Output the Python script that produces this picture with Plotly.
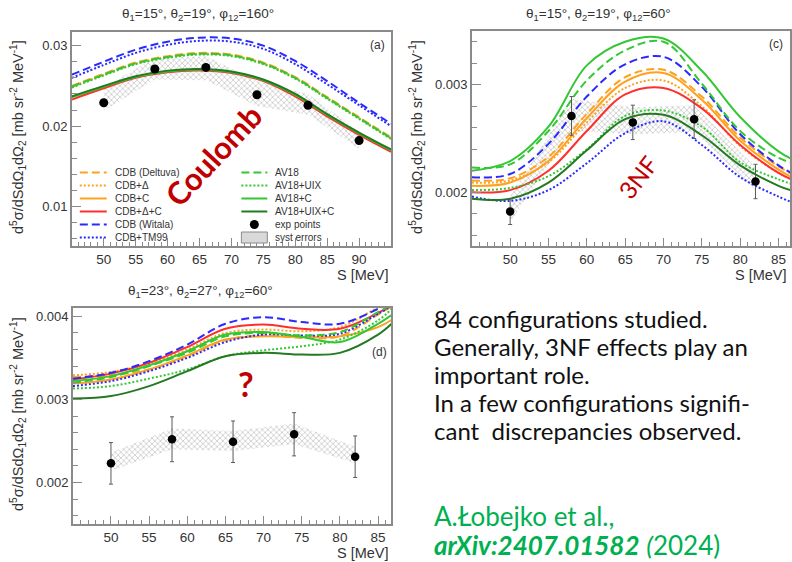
import plotly.graph_objects as go

# ---------------- data ----------------
SERIES_NAMES = ["CDB (Deltuva)", "CDB+Δ", "CDB+C", "CDB+Δ+C", "CDB (Witala)", "CDB+TM99",
                "AV18", "AV18+UIX", "AV18+C", "AV18+UIX+C"]

# panel (a): theta1=15, theta2=19, phi12=160
S_A = [45, 50, 55, 60, 65, 70, 75, 80, 85, 90, 95]
A_CDB_DELTUVA = [0.0250, 0.0265, 0.0279, 0.0287, 0.0291, 0.0289, 0.0279, 0.0261, 0.0236, 0.0211, 0.0186]
A_CDB_DELTA   = [0.0249, 0.0264, 0.0278, 0.0286, 0.0290, 0.0288, 0.0278, 0.0260, 0.0235, 0.0210, 0.0185]
A_CDB_C       = [0.0236, 0.0249, 0.0261, 0.0268, 0.0270, 0.0267, 0.0257, 0.0239, 0.0214, 0.0191, 0.0170]
A_CDB_DELTA_C = [0.0233, 0.0247, 0.0260, 0.0267, 0.0269, 0.0266, 0.0256, 0.0237, 0.0212, 0.0189, 0.0168]
A_CDB_WITALA  = [0.0264, 0.0280, 0.0295, 0.0305, 0.0310, 0.0309, 0.0300, 0.0281, 0.0256, 0.0229, 0.0203]
A_CDB_TM99    = [0.0260, 0.0276, 0.0291, 0.0301, 0.0306, 0.0305, 0.0296, 0.0277, 0.0252, 0.0226, 0.0200]
A_AV18        = [0.0249, 0.0264, 0.0278, 0.0286, 0.0290, 0.0288, 0.0278, 0.0260, 0.0235, 0.0210, 0.0185]
A_AV18_UIX    = [0.0248, 0.0263, 0.0277, 0.0285, 0.0289, 0.0287, 0.0277, 0.0259, 0.0234, 0.0209, 0.0184]
A_AV18_C      = [0.0236, 0.0249, 0.0261, 0.0268, 0.0270, 0.0267, 0.0257, 0.0239, 0.0214, 0.0191, 0.0170]
A_AV18_UIX_C  = [0.0237, 0.0250, 0.0262, 0.0269, 0.0271, 0.0268, 0.0258, 0.0240, 0.0215, 0.0192, 0.0171]
S_EXP_A  = [50, 58, 66, 74, 82, 90]
A_EXP    = [0.0229, 0.0271, 0.0273, 0.0239, 0.0226, 0.0182]
A_SYS_LO = [0.0219, 0.0258, 0.0257, 0.0225, 0.0214, 0.0172]
A_SYS_HI = [0.0248, 0.0285, 0.0287, 0.0256, 0.0240, 0.0193]

# panel (c): theta1=15, theta2=19, phi12=60
S_C = [45, 50, 55, 60, 65, 70, 75, 80, 85, 87]
C_CDB_DELTUVA = [0.00211, 0.00213, 0.00233, 0.00273, 0.00307, 0.00314, 0.00289, 0.00251, 0.00224, 0.00216]
C_CDB_DELTA   = [0.00209, 0.00211, 0.00228, 0.00265, 0.00297, 0.00304, 0.00280, 0.00243, 0.00218, 0.00211]
C_CDB_C       = [0.00206, 0.00209, 0.00229, 0.00269, 0.00303, 0.00311, 0.00286, 0.00248, 0.00221, 0.00213]
C_CDB_DELTA_C = [0.00200, 0.00202, 0.00220, 0.00257, 0.00291, 0.00297, 0.00278, 0.00244, 0.00218, 0.00211]
C_CDB_WITALA  = [0.00214, 0.00217, 0.00245, 0.00289, 0.00319, 0.00326, 0.00298, 0.00254, 0.00225, 0.00217]
C_CDB_TM99    = [0.00196, 0.00192, 0.00202, 0.00227, 0.00255, 0.00266, 0.00244, 0.00214, 0.00196, 0.00190]
C_AV18        = [0.00223, 0.00226, 0.00257, 0.00304, 0.00332, 0.00340, 0.00301, 0.00257, 0.00232, 0.00227]
C_AV18_UIX    = [0.00202, 0.00204, 0.00215, 0.00240, 0.00271, 0.00276, 0.00261, 0.00228, 0.00212, 0.00207]
C_AV18_C      = [0.00220, 0.00229, 0.00261, 0.00318, 0.00340, 0.00343, 0.00313, 0.00270, 0.00238, 0.00230]
C_AV18_UIX_C  = [0.00194, 0.00194, 0.00209, 0.00239, 0.00268, 0.00272, 0.00253, 0.00225, 0.00206, 0.00201]
S_EXP    = [50, 58, 66, 74, 82]
C_EXP    = [0.00182, 0.00271, 0.00265, 0.00268, 0.00210]
C_ERR    = [0.00012, 0.00018, 0.00016, 0.00018, 0.00016]
C_SYS_LO = [0.00172, 0.00257, 0.00254, 0.00256, 0.00202]
C_SYS_HI = [0.00196, 0.00287, 0.00279, 0.00281, 0.00223]

# panel (d): theta1=23, theta2=27, phi12=60
S_D = [45, 50, 55, 60, 65, 70, 75, 80, 85, 87]
D_CDB_DELTUVA = [0.00327, 0.00329, 0.00336, 0.00352, 0.00371, 0.00377, 0.00374, 0.00376, 0.00402, 0.00413]
D_CDB_DELTA   = [0.00329, 0.00333, 0.00343, 0.00360, 0.00380, 0.00384, 0.00382, 0.00387, 0.00411, 0.00422]
D_CDB_C       = [0.00319, 0.00324, 0.00336, 0.00353, 0.00372, 0.00376, 0.00375, 0.00376, 0.00387, 0.00397]
D_CDB_DELTA_C = [0.00324, 0.00331, 0.00344, 0.00363, 0.00385, 0.00390, 0.00385, 0.00385, 0.00404, 0.00415]
D_CDB_WITALA  = [0.00325, 0.00332, 0.00346, 0.00366, 0.00391, 0.00399, 0.00393, 0.00391, 0.00409, 0.00419]
D_CDB_TM99    = [0.00316, 0.00322, 0.00334, 0.00350, 0.00369, 0.00378, 0.00377, 0.00379, 0.00403, 0.00414]
D_AV18        = [0.00320, 0.00327, 0.00340, 0.00356, 0.00376, 0.00380, 0.00377, 0.00381, 0.00405, 0.00415]
D_AV18_UIX    = [0.00313, 0.00316, 0.00325, 0.00336, 0.00352, 0.00359, 0.00364, 0.00372, 0.00395, 0.00411]
D_AV18_C      = [0.00322, 0.00328, 0.00341, 0.00358, 0.00378, 0.00381, 0.00375, 0.00369, 0.00391, 0.00403]
D_AV18_UIX_C  = [0.00301, 0.00304, 0.00316, 0.00334, 0.00352, 0.00356, 0.00354, 0.00356, 0.00378, 0.00393]
D_EXP    = [0.00223, 0.00252, 0.00249, 0.00258, 0.00231]
D_ERR    = [0.00025, 0.00027, 0.00025, 0.00026, 0.00025]
D_SYS_LO = [0.00214, 0.00240, 0.00238, 0.00246, 0.00223]
D_SYS_HI = [0.00236, 0.00265, 0.00262, 0.00271, 0.00243]

X_TICKS_A = [50, 55, 60, 65, 70, 75, 80, 85, 90]
X_TICKS_CD = [50, 55, 60, 65, 70, 75, 80, 85]

PANEL_TITLES = ["θ<sub>1</sub>=15°, θ<sub>2</sub>=19°, φ<sub>12</sub>=160°",
                "θ<sub>1</sub>=15°, θ<sub>2</sub>=19°, φ<sub>12</sub>=60°",
                "θ<sub>1</sub>=23°, θ<sub>2</sub>=27°, φ<sub>12</sub>=60°"]
PANEL_LABELS = ["(a)", "(c)", "(d)"]
TEXT_LINES = ["84 configurations studied.", "Generally, 3NF effects play an", "important role.",
              "In a few configurations signifi-", "cant  discrepancies observed."]

# ---------------- styles ----------------
ORANGE, RED, BLUE, GREEN, DGREEN = "#ffa11f", "#ff2f2f", "#2a2aff", "#33c733", "#237a23"
DASH, DOT = "8px,4px", "2px,2px"
STYLES = [(ORANGE, DASH), (ORANGE, DOT), (ORANGE, "solid"), (RED, "solid"),
          (BLUE, DASH), (BLUE, DOT), (GREEN, DASH), (GREEN, DOT), (GREEN, "solid"), (DGREEN, "solid")]

W, H = 792, 562
FONT = "Liberation Sans, Arial, sans-serif"
TXT = "#333333"
FRAME = "#8a8a8a"

def px(x):
    return x / W

def py(y):
    return 1 - y / H

panels = [
    dict(xa="x", ya="y", S=S_A,
         curves=[A_CDB_DELTUVA, A_CDB_DELTA, A_CDB_C, A_CDB_DELTA_C, A_CDB_WITALA, A_CDB_TM99,
                 A_AV18, A_AV18_UIX, A_AV18_C, A_AV18_UIX_C],
         sexp=S_EXP_A, exp=A_EXP, err=None, lo=A_SYS_LO, hi=A_SYS_HI),
    dict(xa="x2", ya="y2", S=S_C,
         curves=[C_CDB_DELTUVA, C_CDB_DELTA, C_CDB_C, C_CDB_DELTA_C, C_CDB_WITALA, C_CDB_TM99,
                 C_AV18, C_AV18_UIX, C_AV18_C, C_AV18_UIX_C],
         sexp=S_EXP, exp=C_EXP, err=C_ERR, lo=C_SYS_LO, hi=C_SYS_HI),
    dict(xa="x3", ya="y3", S=S_D,
         curves=[D_CDB_DELTUVA, D_CDB_DELTA, D_CDB_C, D_CDB_DELTA_C, D_CDB_WITALA, D_CDB_TM99,
                 D_AV18, D_AV18_UIX, D_AV18_C, D_AV18_UIX_C],
         sexp=S_EXP, exp=D_EXP, err=D_ERR, lo=D_SYS_LO, hi=D_SYS_HI),
]

fig = go.Figure()
for p in panels:
    # systematic error band (hatched)
    fig.add_trace(go.Scatter(
        x=p["sexp"] + p["sexp"][::-1], y=p["hi"] + p["lo"][::-1],
        xaxis=p["xa"], yaxis=p["ya"], mode="lines", fill="toself",
        fillcolor="rgba(255,255,255,0)", line=dict(width=0),
        fillpattern=dict(shape="x", fgcolor="#7a7a7a", bgcolor="rgba(255,255,255,0)",
                         size=4, solidity=0.3),
        name="syst errors", showlegend=False, hoverinfo="skip"))
    for name, vals, (col, dash) in zip(SERIES_NAMES, p["curves"], STYLES):
        fig.add_trace(go.Scatter(
            x=p["S"], y=vals, xaxis=p["xa"], yaxis=p["ya"], mode="lines",
            line=dict(color=col, dash=dash, width=2, shape="spline", smoothing=1.0),
            name=name, showlegend=False))
    ey = dict(type="data", array=p["err"], color="#5a5a5a", thickness=1, width=2) if p["err"] else None
    fig.add_trace(go.Scatter(
        x=p["sexp"], y=p["exp"], xaxis=p["xa"], yaxis=p["ya"], mode="markers",
        marker=dict(color="black", size=9 if p["err"] is None else 8.5),
        error_y=ey, name="exp points", showlegend=False))

# ---------------- axes ----------------
def xax(domain, rng, anchor, tickvals):
    return dict(domain=domain, range=rng, anchor=anchor, tickmode="array", tickvals=tickvals,
                ticks="inside", ticklen=8, tickcolor=FRAME, tickwidth=1,
                minor=dict(tickmode="linear", tick0=45, dtick=1, ticks="inside", ticklen=4,
                           tickcolor=FRAME),
                showline=True, linecolor=FRAME, linewidth=1.5, mirror=True,
                showgrid=False, zeroline=False,
                tickfont=dict(family=FONT, size=13.5, color=TXT))

def yax(domain, rng, anchor, dtick, mdtick):
    return dict(domain=domain, range=rng, anchor=anchor, tick0=0, dtick=dtick,
                ticks="inside", ticklen=9, tickcolor=FRAME, tickwidth=1,
                minor=dict(dtick=mdtick, ticks="inside", ticklen=5, tickcolor=FRAME),
                showline=True, linecolor=FRAME, linewidth=1.5, mirror=True,
                showgrid=False, zeroline=False,
                tickfont=dict(family=FONT, size=13, color=TXT))

fig.update_layout(
    width=W, height=H, margin=dict(l=0, r=0, t=0, b=0),
    paper_bgcolor="white", plot_bgcolor="white", showlegend=False,
    xaxis=xax([px(72), px(392)], [45, 95], "y", X_TICKS_A),
    yaxis=yax([py(246), py(32)], [0.0051, 0.0317], "x", 0.01, 0.002),
    xaxis2=xax([px(473), 1.0], [45, 86.5], "y2", X_TICKS_CD),
    yaxis2=yax([py(246), py(31)], [0.0015, 0.0035], "x2", 0.001, 0.0002),
    xaxis3=xax([px(73), px(392)], [45, 86.7], "y3", X_TICKS_CD),
    yaxis3=yax([py(524), py(308)], [0.0015, 0.0041], "x3", 0.001, 0.0002),
)

ann = []
def A(x, y, text, size=13, color=TXT, family=FONT, xanchor="center", angle=0, **kw):
    ann.append(dict(x=px(x), y=py(y), xref="paper", yref="paper", text=text, showarrow=False,
                    xanchor=xanchor, yanchor="middle", textangle=angle,
                    font=dict(family=family, size=size, color=color), **kw))

YTITLE = "d<sup>5</sup>σ/dSdΩ<sub>1</sub>dΩ<sub>2</sub> [mb sr<sup>-2</sup> MeV<sup>-1</sup>]"
for (tx, ty), title in zip([(199, 15), (600, 14), (201, 291)], PANEL_TITLES):
    A(tx, ty, title, size=13.5)
for (lx, ly), lab in zip([(378, 45), (778, 44), (380, 352)], PANEL_LABELS):
    A(lx, ly, lab, size=12)
for (yx, yy) in [(18, 137), (418, 137), (18, 414)]:
    A(yx, yy, YTITLE, size=14.5, angle=-90)
for (sx, sy) in [(392, 275), (791, 275), (392, 553)]:
    A(sx, sy, "S [MeV]", size=14.5, xanchor="right")

# annotations on the plots
A(214, 155, "<b>Coulomb</b>", size=31, color="#c00000", family="Lato", angle=-47)
A(640, 177, "3NF", size=24, color="#c00000", family="Lato", angle=-52)
A(247, 383, "<b>?</b>", size=34, color="#c00000", family="Lato")

# right text block
for i, line in enumerate(TEXT_LINES):
    A(433, 318 + 28 * i, line, size=24, color="#111111", family="Lato", xanchor="left")
A(433, 516, "A.Łobejko et al.,", size=26, color="#00b050", family="Lato", xanchor="left")
A(433, 545, "<b><i>arXiv:2407.01582</i></b> <i>(</i>2024)", size=26, color="#00b050",
  family="Lato", xanchor="left")

# ---------------- legend of panel (a), drawn in two columns ----------------
shapes = []
rows = [172.5, 185.5, 198.5, 211.5, 224.5, 237.5]
left_items = list(zip(SERIES_NAMES[:6], STYLES[:6]))
right_items = list(zip(SERIES_NAMES[6:], STYLES[6:]))
for (name, (col, dash)), yy in zip(left_items, rows):
    shapes.append(dict(type="line", xref="paper", yref="paper", x0=px(80), x1=px(107),
                       y0=py(yy), y1=py(yy), line=dict(color=col, dash=dash, width=2)))
    A(113, yy, name, size=10, xanchor="left")
for (name, (col, dash)), yy in zip(right_items, rows[:4]):
    shapes.append(dict(type="line", xref="paper", yref="paper", x0=px(242), x1=px(268),
                       y0=py(yy), y1=py(yy), line=dict(color=col, dash=dash, width=2)))
    A(274, yy, name, size=10, xanchor="left")
shapes.append(dict(type="circle", xref="paper", yref="paper", x0=px(250.5), x1=px(259.5),
                   y0=py(rows[4] + 4.5), y1=py(rows[4] - 4.5), fillcolor="black",
                   line=dict(color="black", width=0)))
A(274, rows[4], "exp points", size=10, xanchor="left")
shapes.append(dict(type="rect", xref="paper", yref="paper", x0=px(242), x1=px(268),
                   y0=py(rows[5] + 5.5), y1=py(rows[5] - 5.5), fillcolor="#d9d9d9",
                   line=dict(color="#8a8a8a", width=1)))
A(274, rows[5], "syst errors", size=10, xanchor="left")

fig.update_layout(annotations=ann, shapes=shapes)
fig.write_html("out.html")
